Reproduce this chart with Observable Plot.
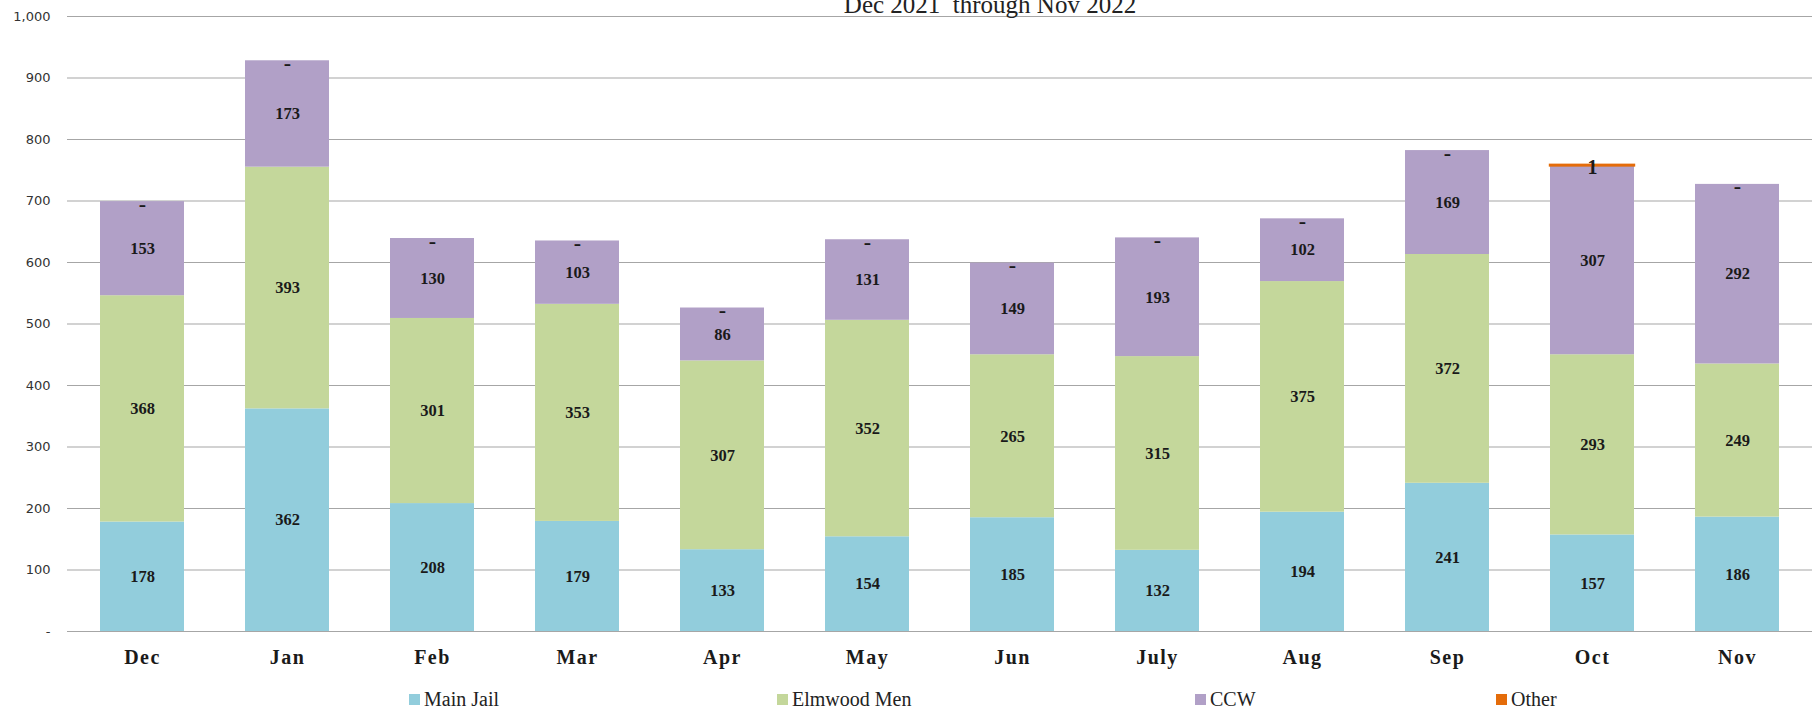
<!DOCTYPE html>
<html>
<head>
<meta charset="utf-8">
<script src="https://cdn.jsdelivr.net/npm/d3@7"></script>
<script src="https://cdn.jsdelivr.net/npm/@observablehq/plot@0.6"></script>
<style>
  html, body { margin: 0; padding: 0; background: #fff; }
  #wrap { position: relative; width: 1818px; height: 711px; overflow: hidden; }
  #title { position: absolute; top: -8px; left: 0; width: 1980px; text-align: center; line-height: 25px;
           font-family: "Liberation Serif", serif; font-size: 25px; color: #222; }
  #chart { position: absolute; top: 0; left: 0; }
  .leg { position: absolute; top: 688px; font-family: "Liberation Serif", serif; font-size: 20px;
         color: #222; display: flex; align-items: center; white-space: nowrap; }
  .leg span.sw { display: inline-block; width: 11px; height: 11px; margin-right: 4px; }
  g[aria-label="x-axis tick label"] text { letter-spacing: 1.5px; }
</style>
</head>
<body>
<div id="wrap">
  <div id="chart"></div>
  <div id="title">Dec 2021&nbsp; through Nov 2022</div>
  <div id="legend"></div>
</div>
<script>
const months = ["Dec","Jan","Feb","Mar","Apr","May","Jun","July","Aug","Sep","Oct","Nov"];
const seriesNames = ["Main Jail","Elmwood Men","CCW","Other"];
const mainJail   = [178,362,208,179,133,154,185,132,194,241,157,186];
const elmwoodMen = [368,393,301,353,307,352,265,315,375,372,293,249];
const ccw        = [153,173,130,103, 86,131,149,193,102,169,307,292];
const other      = [  0,  0,  0,  0,  0,  0,  0,  0,  0,  0,  1,  0];
const yTicks = [0,100,200,300,400,500,600,700,800,900,1000];
const colors = ["#92CDDC","#C4D79B","#B1A0C7","#E46C0A"];

const seriesValues = [mainJail, elmwoodMen, ccw, other];
const rows = [];
months.forEach((m, i) => {
  seriesNames.forEach((s, j) => {
    rows.push({month: m, series: s, value: seriesValues[j][i]});
  });
});

const isOtherPos = d => d.series === "Other" && d.value > 0;

const chart = Plot.plot({
  width: 1818,
  height: 680,
  marginLeft: 67,
  marginRight: 6,
  marginTop: 16,
  marginBottom: 49,
  style: {background: "transparent"},
  x: {domain: months, paddingInner: 0.42, paddingOuter: 0.21, label: null},
  y: {domain: [0, 1000], label: null},
  color: {domain: seriesNames, range: colors},
  marks: [
    Plot.ruleY(yTicks, {stroke: "#a6a6a6", strokeWidth: 1.2}),
    Plot.barY(rows, Plot.stackY({x: "month", y: "value", z: "series", fill: "series"})),
    // thin "Other" segment drawn with an outline so it is visible
    Plot.barY(rows, Plot.stackY({x: "month", y: "value", z: "series", fill: "none",
      stroke: "series", strokeWidth: 2.4, strokeOpacity: d => isOtherPos(d) ? 1 : 0})),
    // value labels (zero shown as "-")
    Plot.text(rows, Plot.stackY({
      x: "month", y: "value", z: "series",
      text: d => isOtherPos(d) || d.value === 0 ? null : String(d.value),
      fontSize: 16.5, fontWeight: "bold",
      fontFamily: "Liberation Serif", fill: "#1a1a1a"
    })),
    Plot.text(rows, Plot.stackY({
      x: "month", y: "value", z: "series",
      text: d => d.value === 0 ? "-" : null,
      fontSize: 22, fontWeight: "bold", dy: 2,
      fontFamily: "Liberation Serif", fill: "#1a1a1a"
    })),
    Plot.text(rows, Plot.stackY({
      x: "month", y: "value", z: "series",
      text: d => isOtherPos(d) ? String(d.value) : null,
      fontSize: 20, fontWeight: "bold", dy: 2,
      fontFamily: "Liberation Serif", fill: "#1a1a1a"
    })),
    Plot.axisY(yTicks, {tickSize: 0, tickPadding: 17, fontSize: 13, fontFamily: "DejaVu Sans",
      fill: "#333", tickFormat: d => d === 0 ? "-" : d3.format(",")(d)}),
    Plot.axisX({tickSize: 0, tickPadding: 18, fontSize: 20, fontWeight: "bold",
      fontFamily: "Liberation Serif", fill: "#1a1a1a", label: null})
  ]
});
document.getElementById("chart").appendChild(chart);

const legendLefts = [409, 777, 1195, 1496];
const legend = document.getElementById("legend");
seriesNames.forEach((s, i) => {
  const d = document.createElement("div");
  d.className = "leg";
  d.style.left = legendLefts[i] + "px";
  d.innerHTML = `<span class="sw" style="background:${colors[i]}"></span>${s}`;
  legend.appendChild(d);
});
</script>
</body>
</html>
